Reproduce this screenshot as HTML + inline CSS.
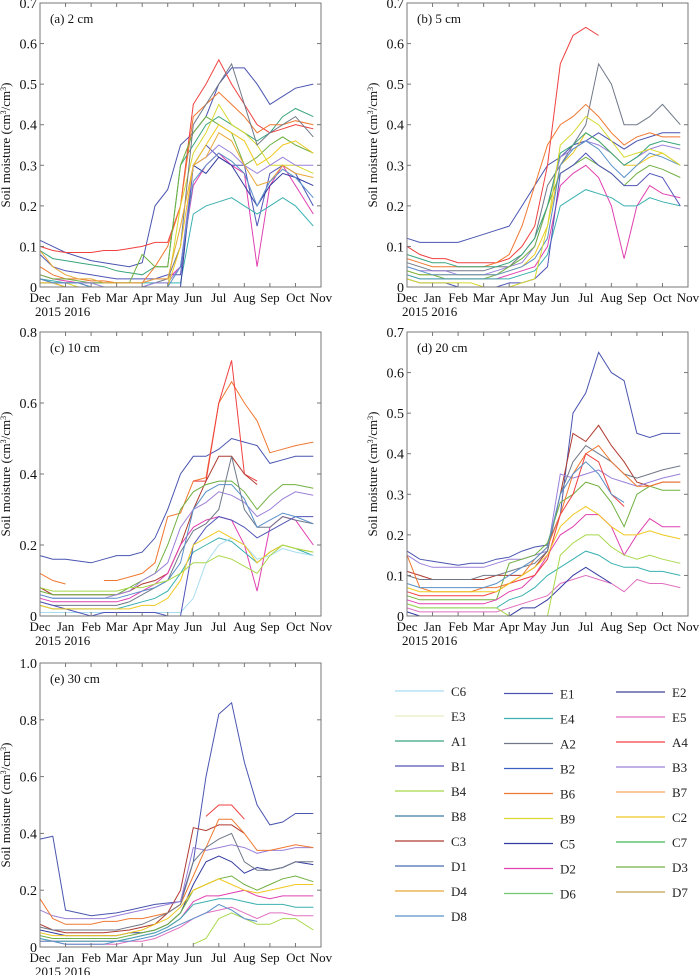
<!DOCTYPE html>
<html><head><meta charset="utf-8">
<style>
html,body{margin:0;padding:0;background:#fff;}
svg{display:block;font-family:"Liberation Serif",serif;}
</style></head>
<body>
<svg id="chart" width="700" height="975" viewBox="0 0 700 975" xmlns="http://www.w3.org/2000/svg"></svg>
<script>
const monthLabels = ["Dec","Jan","Feb","Mar","Apr","May","Jun","Jul","Aug","Sep","Oct","Nov"];
const times = [0,0.5,1,1.5,2,2.5,3,3.5,4,4.5,5,5.5,6,6.5,7,7.5,8,8.5,9,9.5,10,10.7];
const N = null;

const namesA = ["E1","A4","A1","B1","D2","E4","B6","D3","B9","C5","A2","B3","C2","D4","D8"];
const seriesA = [
[0.115,0.1,0.085,0.075,0.065,0.06,0.055,0.05,0.06,0.2,0.24,0.35,0.38,0.42,0.5,0.54,0.54,0.5,0.45,0.47,0.49,0.5],
[0.1,0.09,0.085,0.085,0.085,0.09,0.09,0.095,0.1,0.11,0.11,0.2,0.45,0.5,0.56,0.5,0.45,0.4,0.38,0.39,0.4,0.39],
[0.09,0.07,0.065,0.06,0.055,0.05,0.04,0.035,0.03,0.05,0.05,0.3,0.35,0.4,0.42,0.4,0.38,0.36,0.38,0.42,0.44,0.42],
[0.08,0.05,0.04,0.035,0.03,0.025,0.02,0.02,0.02,0.02,0.03,0.03,0.3,0.35,0.32,0.3,0.3,0.15,0.28,0.3,0.28,0.2],
[0.03,0.02,0.015,0.01,0.01,0.01,0.01,0.01,0.01,0.02,0.02,0.05,0.25,0.3,0.33,0.3,0.28,0.05,0.25,0.3,0.25,0.18],
[0.02,0.015,0.01,0.01,0.01,0.01,0.01,0.01,0.01,0.01,0.01,0.01,0.18,0.2,0.21,0.22,0.2,0.18,0.2,0.22,0.2,0.15],
[0.05,0.03,0.02,0.02,0.015,0.015,0.01,0.01,0.01,0.05,0.1,0.2,0.42,0.45,0.48,0.45,0.42,0.38,0.4,0.4,0.41,0.4],
[0.03,0.02,0.02,0.015,0.01,0.01,0.01,0.01,0.08,0.05,0.05,0.3,0.38,0.42,0.4,0.38,0.3,0.32,0.35,0.37,0.35,0.33],
[0.02,0.01,0.01,0.0,0.0,0.0,0.0,0.0,0.0,0.0,0.0,0.2,0.33,0.38,0.45,0.4,0.38,0.35,0.3,0.3,0.3,0.28],
[0.01,0.01,0.0,0.0,0.0,0.0,0.0,0.0,0.0,0.0,0.0,0.0,0.3,0.28,0.32,0.3,0.25,0.2,0.25,0.28,0.27,0.25],
[0.02,0.01,0.01,0.01,0.0,0.0,0.0,0.0,0.0,0.01,0.02,0.1,0.4,0.45,0.5,0.55,0.45,0.35,0.38,0.4,0.42,0.37],
[0.02,0.01,0.01,0.01,0.01,0.0,0.0,0.0,0.0,0.01,0.01,0.05,0.3,0.32,0.35,0.33,0.3,0.28,0.3,0.32,0.3,0.3],
[0.01,0.01,0.0,0.0,0.0,0.0,0.0,0.0,0.0,0.0,0.0,0.1,0.3,0.35,0.4,0.38,0.36,0.3,0.32,0.35,0.36,0.33],
[0.09,0.05,0.03,0.02,0.02,0.01,0.01,0.01,0.01,0.02,0.02,0.15,0.3,0.32,0.38,0.36,0.3,0.25,0.26,0.3,0.28,0.27],
[0.02,0.01,0.01,0.01,0.0,0.0,0.0,0.0,0.0,0.0,0.0,0.05,0.26,0.3,0.33,0.31,0.28,0.2,0.26,0.29,0.27,0.22]
];

const namesB = ["E1","A4","A2","B6","B3","C2","D3","D2","E4","B1","D8","A1","B9"];
const seriesB = [
[0.12,0.11,0.11,0.11,0.11,0.12,0.13,0.14,0.15,0.2,0.25,0.3,0.32,0.35,0.36,0.38,0.36,0.34,0.36,0.37,0.38,0.38],
[0.1,0.08,0.07,0.07,0.06,0.06,0.06,0.06,0.07,0.1,0.15,0.3,0.55,0.62,0.64,0.62,N,N,N,N,N,N],
[0.06,0.05,0.04,0.04,0.04,0.04,0.04,0.05,0.05,0.08,0.12,0.25,0.3,0.35,0.4,0.55,0.5,0.4,0.4,0.42,0.45,0.4],
[0.07,0.06,0.05,0.05,0.05,0.05,0.05,0.06,0.08,0.15,0.25,0.35,0.4,0.42,0.45,0.42,0.38,0.35,0.37,0.38,0.37,0.37],
[0.05,0.04,0.04,0.04,0.03,0.03,0.03,0.04,0.05,0.06,0.1,0.2,0.32,0.34,0.36,0.35,0.33,0.3,0.32,0.34,0.35,0.34],
[0.04,0.03,0.03,0.03,0.03,0.03,0.03,0.03,0.04,0.05,0.08,0.15,0.3,0.33,0.38,0.36,0.33,0.3,0.3,0.32,0.33,0.3],
[0.04,0.03,0.03,0.02,0.02,0.02,0.02,0.03,0.05,0.07,0.1,0.2,0.28,0.3,0.32,0.3,0.28,0.25,0.28,0.3,0.29,0.27],
[0.03,0.02,0.02,0.02,0.02,0.02,0.02,0.02,0.03,0.04,0.05,0.1,0.25,0.28,0.3,0.27,0.2,0.07,0.2,0.25,0.23,0.22],
[0.03,0.02,0.02,0.02,0.02,0.02,0.02,0.02,0.02,0.03,0.04,0.08,0.2,0.22,0.24,0.23,0.22,0.2,0.2,0.22,0.21,0.2],
[0.02,0.01,0.01,0.01,0.0,0.0,0.0,0.0,0.01,0.01,0.02,0.05,0.28,0.3,0.33,0.3,0.28,0.25,0.25,0.28,0.27,0.2],
[0.05,0.04,0.03,0.03,0.03,0.03,0.03,0.03,0.04,0.05,0.07,0.12,0.3,0.34,0.36,0.34,0.3,0.27,0.3,0.33,0.32,0.3],
[0.08,0.07,0.06,0.06,0.05,0.05,0.05,0.05,0.06,0.08,0.12,0.2,0.33,0.35,0.38,0.36,0.33,0.3,0.32,0.35,0.36,0.35],
[0.02,0.01,0.01,0.01,0.01,0.01,0.0,0.0,0.0,0.01,0.02,0.15,0.35,0.38,0.42,0.4,0.36,0.32,0.33,0.34,0.33,0.3]
];

const namesC = ["E1","B6","A4","C3","D3","B3","D2","A2","E4","C6","B1","C2","D8","B4"];
const seriesC = [
[0.17,0.16,0.16,0.155,0.15,0.16,0.17,0.17,0.18,0.22,0.3,0.4,0.45,0.45,0.47,0.5,0.49,0.48,0.43,0.44,0.45,0.45],
[0.12,0.1,0.09,N,N,0.1,0.1,0.11,0.12,0.15,0.28,0.29,0.38,0.39,0.6,0.66,0.6,0.55,0.46,0.47,0.48,0.49],
[N,N,N,N,N,N,N,N,N,N,N,N,0.38,0.38,0.6,0.72,0.4,0.38,N,N,N,N],
[0.08,0.06,0.06,0.06,0.06,0.06,0.06,0.07,0.09,0.1,0.12,0.2,0.3,0.38,0.45,0.45,0.4,0.37,N,N,N,N],
[0.07,0.06,0.06,0.06,0.06,0.06,0.06,0.08,0.1,0.12,0.2,0.3,0.35,0.37,0.38,0.38,0.35,0.3,0.34,0.37,0.37,0.36],
[0.06,0.05,0.05,0.05,0.05,0.05,0.06,0.07,0.1,0.12,0.15,0.25,0.3,0.32,0.35,0.34,0.32,0.28,0.3,0.33,0.35,0.34],
[0.05,0.04,0.04,0.04,0.04,0.04,0.04,0.05,0.07,0.09,0.12,0.2,0.25,0.27,0.28,0.27,0.2,0.07,0.25,0.28,0.27,0.2],
[0.04,0.03,0.03,0.03,0.03,0.03,0.03,0.04,0.06,0.08,0.1,0.18,0.24,0.26,0.3,0.45,0.3,0.25,0.25,0.28,0.27,0.26],
[0.03,0.02,0.02,0.02,0.02,0.02,0.02,0.03,0.04,0.05,0.07,0.12,0.18,0.2,0.22,0.21,0.18,0.15,0.18,0.2,0.19,0.17],
[0.01,0.01,0.01,0.01,0.01,0.01,0.01,0.01,0.01,0.01,0.01,0.01,0.05,0.15,0.2,0.22,0.2,0.16,0.17,0.19,0.18,0.17],
[0.04,0.03,0.02,0.01,0.0,0.01,0.01,0.01,0.01,0.01,0.0,0.0,0.2,0.25,0.28,0.27,0.25,0.22,0.24,0.26,0.28,0.28],
[0.03,0.02,0.02,0.02,0.02,0.02,0.02,0.02,0.03,0.03,0.05,0.1,0.2,0.22,0.24,0.22,0.2,0.15,0.18,0.2,0.19,0.18],
[0.06,0.05,0.05,0.05,0.05,0.05,0.05,0.06,0.07,0.08,0.1,0.15,0.3,0.35,0.37,0.37,0.33,0.25,0.27,0.29,0.28,0.26],
[0.08,0.07,0.07,0.07,0.07,0.07,0.07,0.08,0.08,0.09,0.1,0.12,0.15,0.15,0.17,0.16,0.14,0.12,0.17,0.2,0.19,0.18]
];

const namesD = ["E1","C3","B3","A2","D3","B6","D2","E4","E5","C5","A4","B4","C2","D8"];
const seriesD = [
[0.16,0.14,0.135,0.13,0.125,0.13,0.13,0.14,0.145,0.16,0.17,0.175,0.25,0.5,0.55,0.65,0.6,0.58,0.45,0.44,0.45,0.45],
[0.11,0.1,0.09,0.09,0.09,0.09,0.09,0.1,0.1,0.1,0.12,0.16,0.3,0.45,0.43,0.47,0.42,0.38,0.33,0.32,0.33,0.33],
[0.15,0.13,0.12,0.12,0.12,0.12,0.12,0.13,0.14,0.14,0.15,0.16,0.35,0.34,0.35,0.36,0.34,0.33,0.32,0.33,0.34,0.35],
[0.1,0.09,0.09,0.09,0.09,0.09,0.1,0.1,0.11,0.12,0.13,0.16,0.3,0.38,0.42,0.4,0.38,0.35,0.34,0.35,0.36,0.37],
[0.05,0.04,0.04,0.04,0.04,0.04,0.04,0.04,0.13,0.14,0.15,0.18,0.28,0.3,0.33,0.32,0.28,0.22,0.3,0.32,0.31,0.31],
[0.15,0.07,0.06,0.06,0.06,0.06,0.07,0.07,0.08,0.1,0.14,0.17,0.25,0.35,0.4,0.42,0.38,0.35,0.32,0.32,0.33,0.33],
[0.04,0.03,0.03,0.03,0.03,0.03,0.03,0.04,0.06,0.07,0.1,0.15,0.2,0.22,0.25,0.25,0.22,0.15,0.2,0.24,0.22,0.22],
[0.03,0.02,0.02,0.02,0.02,0.02,0.02,0.02,0.04,0.05,0.07,0.1,0.12,0.14,0.16,0.15,0.13,0.12,0.12,0.11,0.11,0.1],
[0.02,0.01,0.01,0.01,0.01,0.01,0.01,0.01,0.02,0.03,0.04,0.05,0.08,0.09,0.1,0.09,0.08,0.06,0.09,0.08,0.08,0.07],
[0.01,0.0,0.0,0.0,0.0,0.0,0.0,0.0,0.0,0.02,0.02,0.04,0.07,0.1,0.12,0.1,0.08,N,N,N,N,N],
[0.06,0.05,0.05,0.05,0.05,0.05,0.05,0.06,0.08,0.09,0.1,0.14,0.25,0.3,0.4,0.38,0.3,0.27,N,N,N,N],
[0.03,0.02,0.02,0.02,0.02,0.02,0.02,0.02,0.0,0.0,0.0,0.0,0.15,0.18,0.2,0.2,0.17,0.15,0.14,0.15,0.14,0.13],
[0.07,0.06,0.06,0.06,0.06,0.06,0.06,0.06,0.08,0.1,0.12,0.15,0.22,0.25,0.27,0.25,0.22,0.2,0.2,0.21,0.2,0.19],
[0.08,0.07,0.07,0.07,0.07,0.07,0.07,0.08,0.1,0.12,0.14,0.17,0.3,0.35,0.38,0.35,0.3,0.28,N,N,N,N]
];

const namesE = ["E1","C3","B3","B6","C5","D3","D2","E4","E5","B4","D8","A4","C2","A2"];
const seriesE = [
[0.38,0.39,0.13,0.12,0.11,0.115,0.12,0.13,0.14,0.15,0.155,0.16,0.3,0.6,0.82,0.86,0.65,0.5,0.43,0.44,0.47,0.47],
[0.08,0.06,0.05,0.05,0.05,0.05,0.055,0.06,0.07,0.08,0.12,0.2,0.42,0.41,0.43,0.43,0.4,N,N,N,N,N],
[0.13,0.11,0.1,0.1,0.1,0.1,0.11,0.12,0.13,0.14,0.15,0.16,0.35,0.34,0.35,0.36,0.35,0.33,0.34,0.34,0.35,0.35],
[0.17,0.1,0.08,0.08,0.08,0.09,0.09,0.1,0.1,0.11,0.12,0.15,0.25,0.35,0.45,0.45,0.4,0.34,0.34,0.35,0.36,0.35],
[0.06,0.05,0.04,0.04,0.04,0.04,0.04,0.05,0.05,0.06,0.08,0.12,0.22,0.3,0.32,0.3,0.26,0.28,0.27,0.28,0.3,0.29],
[0.04,0.03,0.03,0.03,0.03,0.03,0.03,0.04,0.05,0.06,0.08,0.12,0.2,0.22,0.24,0.25,0.22,0.2,0.22,0.24,0.25,0.23],
[0.03,0.02,0.02,0.02,0.02,0.02,0.02,0.03,0.04,0.05,0.07,0.1,0.16,0.18,0.18,0.19,0.2,0.18,0.17,0.18,0.18,0.18],
[0.03,0.02,0.02,0.02,0.02,0.02,0.02,0.03,0.04,0.05,0.07,0.1,0.15,0.16,0.17,0.17,0.16,0.15,0.15,0.15,0.14,0.14],
[0.02,0.02,0.01,0.01,0.01,0.01,0.01,0.02,0.02,0.03,0.05,0.07,0.1,0.12,0.13,0.14,0.12,0.1,0.12,0.12,0.11,0.11],
[N,N,N,N,N,N,N,N,N,N,N,N,0.01,0.03,0.1,0.12,0.1,0.08,0.08,0.1,0.1,0.06],
[0.02,0.02,0.01,0.01,0.01,0.01,0.02,0.02,0.03,0.04,0.06,0.08,0.1,0.12,0.15,0.13,0.1,0.09,N,N,N,N],
[N,N,N,N,N,N,N,N,N,N,N,N,N,0.46,0.5,0.5,0.45,N,N,N,N,N],
[0.05,0.04,0.04,0.04,0.04,0.04,0.04,0.05,0.06,0.08,0.1,0.14,0.2,0.22,0.24,0.22,0.2,0.19,0.2,0.21,0.22,0.22],
[0.07,0.06,0.06,0.06,0.06,0.06,0.06,0.07,0.08,0.1,0.12,0.15,0.3,0.35,0.38,0.4,0.3,0.27,0.27,0.28,0.3,0.3]
];

const legendNames = ["C6","E3","A1","B1","B4","B8","C3","D1","D4","D8","E1","E4","A2","B2","B6","B9","C5","D2","D6","E2","E5","A4","B3","B7","C2","C7","D3","D7"];
const colorMap = {C6:"#a8dcef",E3:"#eaeec4",A1:"#3aa57c",B1:"#5055b8",B4:"#a8d84a",B8:"#3a7aa0",C3:"#b03a30",D1:"#4a6ab0",D4:"#e8a838",D8:"#5a90c8",E1:"#4a55b0",E4:"#3ab0b0",A2:"#707888",B2:"#3a60c0",B6:"#f07830",B9:"#d8d830",C5:"#333aa0",D2:"#e040b0",D6:"#70c870",E2:"#3a4090",E5:"#e070c0",A4:"#f04040",B3:"#9a80d8",B7:"#f8a860",C2:"#f0c820",C7:"#40b850",D3:"#70b040",D7:"#c8a050"};

const yTicksA = [0,0.1,0.2,0.3,0.4,0.5,0.6,0.7];
const yTicksC = [0,0.2,0.4,0.6,0.8];
const yTicksE = [0,0.2,0.4,0.6,0.8,1.0];

const NS = "http://www.w3.org/2000/svg";
const svg = document.getElementById("chart");
function el(tag, attrs, parent){ const e=document.createElementNS(NS,tag); for(const k in attrs) e.setAttribute(k,attrs[k]); (parent||svg).appendChild(e); return e; }
function fmt(v){ if(v===0) return "0"; return v.toFixed(1); }

function panel(id, label, px, py, ymax, ticks, names, series){
  const w=281, h=284;
  const g = el("g",{});
  
  
  const xs = t => px + t/11*w;
  const ys = v => py + h - v/ymax*h;
  // series
  series.forEach((vals,si)=>{
    let d="", pen=false;
    vals.forEach((v,i)=>{ if(v===null){pen=false;return;} d+=(pen?"L":"M")+xs(times[i]).toFixed(1)+" "+ys(v).toFixed(1); pen=true; });
    const p = el("path",{d:d,fill:"none",stroke:colorMap[names[si]],"stroke-width":"1"},g);
    
    
  });
  // frame
  const fr = el("rect",{x:px,y:py,width:w,height:h,fill:"none",stroke:"#777","stroke-width":"1"},g);
  
  
  // y ticks
  ticks.forEach(v=>{
    const y=ys(v);
    el("line",{x1:px,x2:px+4,y1:y,y2:y,stroke:"#777"},g);
    el("line",{x1:px+w-4,x2:px+w,y1:y,y2:y,stroke:"#777"},g);
    const t=el("text",{x:px-3,y:y+5,"text-anchor":"end","font-size":"14",fill:"#111"},g);
    t.textContent=fmt(v);
    
    
  });
  // x ticks
  monthLabels.forEach((m,i)=>{
    const x=xs(i);
    el("line",{x1:x,x2:x,y1:py+h,y2:py+h-4,stroke:"#777"},g);
    el("line",{x1:x,x2:x,y1:py,y2:py+4,stroke:"#777"},g);
    const t=el("text",{x:x,y:py+h+15,"text-anchor":"middle","font-size":"13",fill:"#111"},g);
    t.textContent=m;
    
    
  });
  const yr=el("text",{x:px-5,y:py+h+29,"font-size":"13",fill:"#111"},g);
  yr.textContent="2015 2016";
  
  
  const pl=el("text",{x:px+10,y:py+20,"font-size":"13",fill:"#111"},g);
  pl.textContent=label;
  
  
  const cx=px-30, cy=py+h/2;
  const yt=el("text",{x:cx,y:cy,"text-anchor":"middle","font-size":"13",fill:"#111",transform:"rotate(-90 "+cx+" "+cy+")"},g);
  yt.innerHTML='Soil  moisture (cm<tspan baseline-shift="super" font-size="8">3</tspan>/cm<tspan baseline-shift="super" font-size="8">3</tspan>)';
  
  
}

panel("a","(a) 2 cm",40,3,0.7,yTicksA,namesA,seriesA);
panel("b","(b) 5 cm",407,3,0.7,yTicksA,namesB,seriesB);
panel("c","(c) 10 cm",40,332,0.8,yTicksC,namesC,seriesC);
panel("d","(d) 20 cm",407,332,0.7,yTicksA,namesD,seriesD);
panel("e","(e) 30 cm",40,663,1.0,yTicksE,namesE,seriesE);

// legend
const lg = el("g",{});


const cols=[{x:395,y:691,n:10},{x:504,y:693.5,n:9},{x:616,y:692,n:9}];
let k=0;
cols.forEach(c=>{
  for(let r=0;r<c.n;r++){
    const nm=legendNames[k++];
    const y=c.y+r*25;
    const e=el("g",{},lg);
    
    
    el("line",{x1:c.x,x2:c.x+49,y1:y,y2:y,stroke:colorMap[nm],"stroke-width":"1.2"},e);
    const t=el("text",{x:c.x+56,y:y+5,"font-size":"13",fill:"#222"},e);
    t.textContent=nm;
  }
});
</script>
</body></html>
